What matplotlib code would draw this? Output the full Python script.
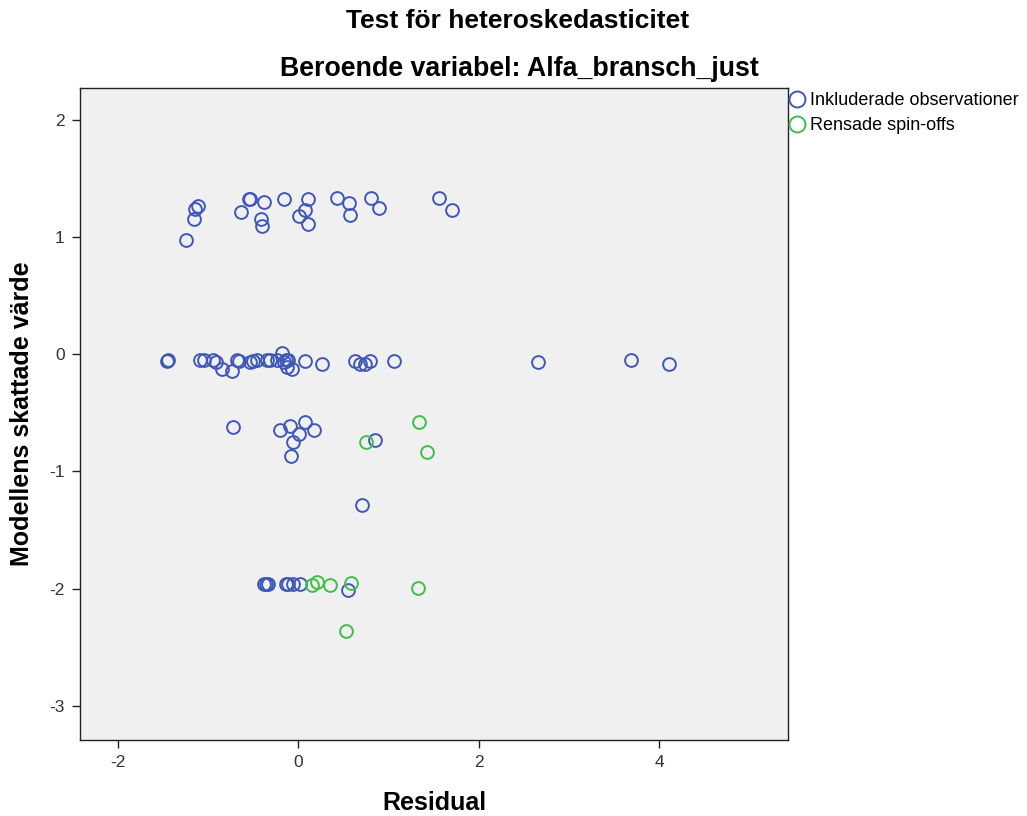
import matplotlib
matplotlib.use("Agg")
import matplotlib.pyplot as plt
from matplotlib.lines import Line2D

plt.rcParams['font.family'] = ['Liberation Sans', 'DejaVu Sans']

# Included observations (blue)
incl_x = [-1.25, -1.16, -1.15, -1.11, -0.63, -0.55, -0.53, -0.41, -0.40, -0.38,
          -0.16, 0.01, 0.08, 0.11, 0.11, 0.43, 0.56, 0.57, 0.81, 0.90, 1.56, 1.70,
          -1.46, -1.44, -1.09, -1.05, -0.94, -0.91, -0.85, -0.73, -0.68, -0.66,
          -0.53, -0.50, -0.46, -0.35, -0.31, -0.24, -0.18, -0.16, -0.13, -0.07,
          -0.11, -0.14, 0.08, 0.26, 0.63, 0.69, 0.74, 0.80, 1.06, 2.66, 3.69, 4.11,
          -0.72, -0.20, -0.09, 0.08, 0.18, 0.01, -0.06, -0.08, 0.85,
          0.71,
          -0.38, -0.36, -0.33, -0.14, -0.11, -0.06, 0.02, 0.55]
incl_y = [0.97, 1.15, 1.24, 1.26, 1.21, 1.32, 1.32, 1.15, 1.09, 1.30,
          1.32, 1.18, 1.23, 1.32, 1.11, 1.33, 1.29, 1.19, 1.33, 1.25, 1.33, 1.23,
          -0.06, -0.05, -0.05, -0.05, -0.05, -0.07, -0.13, -0.14, -0.05, -0.06,
          -0.07, -0.06, -0.05, -0.05, -0.05, -0.05, 0.01, -0.07, -0.11, -0.13,
          -0.05, -0.05, -0.06, -0.08, -0.06, -0.08, -0.08, -0.06, -0.06, -0.07, -0.05, -0.08,
          -0.62, -0.65, -0.61, -0.58, -0.65, -0.68, -0.75, -0.87, -0.73,
          -1.29,
          -1.96, -1.96, -1.96, -1.96, -1.96, -1.96, -1.96, -2.01]

# Removed spin-offs (green)
spin_x = [0.75, 1.34, 1.43, 0.15, 0.21, 0.35, 0.58, 1.33, 0.53]
spin_y = [-0.75, -0.58, -0.83, -1.97, -1.94, -1.97, -1.95, -1.99, -2.36]

xticks = [-2, 0, 2, 4]
yticks = [-3, -2, -1, 0, 1, 2]

blue = '#3f58b8'
green = '#3fbf4a'

W, H = 1027, 816
fig = plt.figure(figsize=(W/100, H/100), dpi=100)
ax_l, ax_r, ax_t, ax_b = 80, 788, 88, 740
ax = fig.add_axes([ax_l/W, 1-ax_b/H, (ax_r-ax_l)/W, (ax_b-ax_t)/H])
ax.set_facecolor('#f0f0f0')

ms = 9.2
ax.plot(incl_x, incl_y, linestyle='none', marker='o', markersize=ms,
        markerfacecolor='none', markeredgecolor=blue, markeredgewidth=1.4)
ax.plot(spin_x, spin_y, linestyle='none', marker='o', markersize=ms,
        markerfacecolor='none', markeredgecolor=green, markeredgewidth=1.4)

ax.set_xlim(-2.42, 5.43)
ax.set_ylim(-3.29, 2.27)
ax.set_xticks(xticks)
ax.set_yticks(yticks)
ax.set_xticklabels([str(t) for t in xticks])
ax.set_yticklabels([str(t) for t in yticks])
ax.tick_params(direction='out', length=6, width=1, colors='#222222',
               labelsize=12.5, labelcolor='#333333', pad=5)
for s in ax.spines.values():
    s.set_color('#222222')
    s.set_linewidth(1)

ax.set_xlabel('Residual', fontsize=18, fontweight='bold', va='center')
ax.xaxis.set_label_coords(0.5, -(803-ax_b)/(ax_b-ax_t))
ax.set_ylabel('Modellens skattade värde', fontsize=18, fontweight='bold', va='center')
ax.yaxis.set_label_coords(-(ax_l-22)/(ax_r-ax_l), 0.5)

fig.text(518/W, 1-21/H, 'Test för heteroskedasticitet', ha='center', va='center',
         fontsize=19, fontweight='bold')
fig.text(519/W, 1-69/H, 'Beroende variabel: Alfa_bransch_just', ha='center', va='center',
         fontsize=19.3, fontweight='bold')

handles = [Line2D([], [], linestyle='none', marker='o', markersize=11.5,
                  markerfacecolor='none', markeredgecolor=blue, markeredgewidth=1.4),
           Line2D([], [], linestyle='none', marker='o', markersize=11.5,
                  markerfacecolor='none', markeredgecolor=green, markeredgewidth=1.4)]
fig.legend(handles, ['Inkluderade observationer', 'Rensade spin-offs'],
           loc='upper left', bbox_to_anchor=(790/W, 1-92/H), frameon=False,
           fontsize=13, handlelength=0.8, handletextpad=0.3, labelspacing=0.45,
           borderpad=0, borderaxespad=0)

fig.savefig('out.png', dpi=100)
